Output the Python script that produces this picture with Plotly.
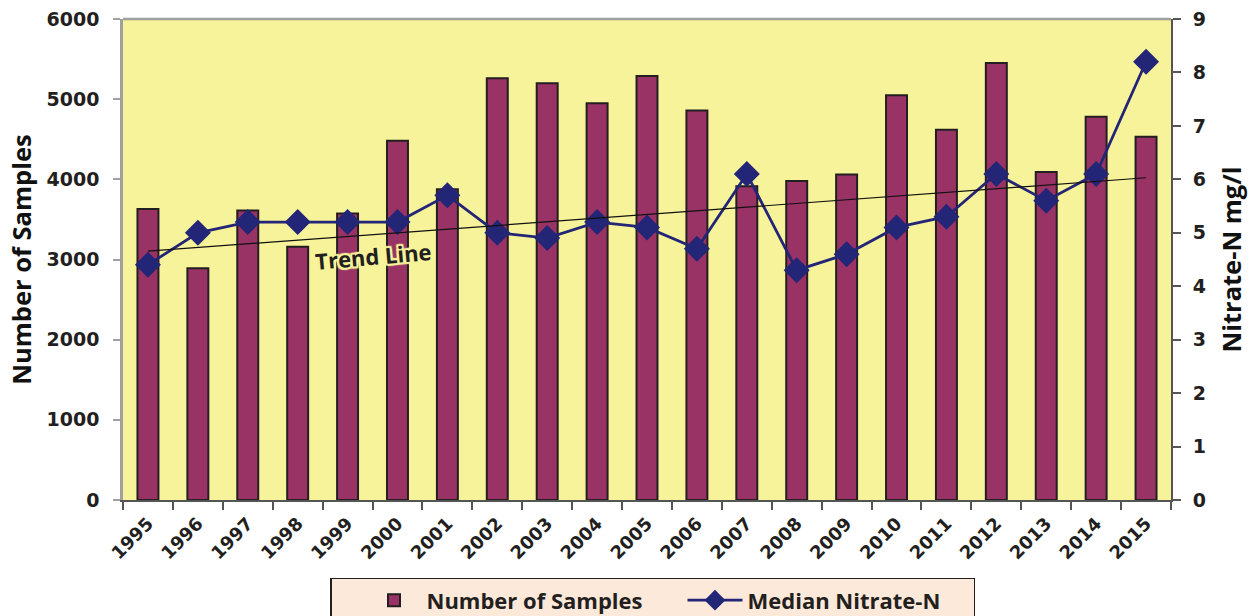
import numpy as np
import plotly.graph_objects as go

years = [str(y) for y in range(1995, 2016)]
samples = [3630, 2890, 3610, 3160, 3575, 4480, 3875, 5260, 5200, 4950, 5290,
           4860, 3915, 3980, 4060, 5050, 4620, 5450, 4090, 4780, 4530]
nitrate = [4.4, 5.0, 5.2, 5.2, 5.2, 5.2, 5.7, 5.0, 4.9, 5.2, 5.1,
           4.7, 6.1, 4.3, 4.6, 5.1, 5.3, 6.1, 5.6, 6.1, 8.2]
left_ticks = [0, 1000, 2000, 3000, 4000, 5000, 6000]
right_ticks = list(range(0, 10))

idx = np.arange(len(years))
slope, intercept = np.polyfit(idx, nitrate, 1)
trend = [intercept + slope * idx[0], intercept + slope * idx[-1]]

FONT = "Open Sans"
TICKFONT = "DejaVu Sans"
DARK = "#231F20"
YELLOW = "#F7F39A"

fig = go.Figure()
fig.add_trace(go.Bar(
    x=years, y=samples, name="Number of Samples",
    marker=dict(color="#993366", line=dict(color="#231F20", width=2)),
    yaxis="y",
))
fig.add_trace(go.Scatter(
    x=years, y=nitrate, name="Median Nitrate-N", mode="lines+markers",
    line=dict(color="#232576", width=2.8),
    marker=dict(symbol="diamond", size=20, color="#232576"),
    yaxis="y2",
))
fig.add_trace(go.Scatter(
    x=[years[0], years[-1]], y=trend, mode="lines", showlegend=False,
    line=dict(color="#111111", width=1.2), yaxis="y2",
))

halo = ", ".join(f"{dx}px {dy}px 1px {YELLOW}" for dx, dy in
                 [(2, 0), (-2, 0), (0, 2), (0, -2), (2, 2), (-2, -2), (2, -2), (-2, 2)])

fig.update_layout(
    width=1256, height=616,
    margin=dict(l=123, r=85, t=19, b=116, autoexpand=False),
    paper_bgcolor="white",
    plot_bgcolor=YELLOW,
    bargap=0.58,
    font=dict(family=FONT, color=DARK, size=18),
    showlegend=True,
    legend=dict(
        orientation="h", x=(330 - 123) / 1048, xanchor="left", y=-0.162, yanchor="top",
        bgcolor="#FDE9DA", bordercolor="#231F20", borderwidth=1.5,
        font=dict(family=FONT, size=22, color=DARK, weight="bold"),
        entrywidth=221, itemwidth=55, indentation=30,
    ),
    xaxis=dict(
        type="category", range=[-0.5, len(years) - 0.5],
        tickangle=-45, tickson="boundaries",
        ticks="outside", ticklen=8, tickcolor="#555555", tickwidth=1.5,
        showline=True, linecolor="#555555", linewidth=2,
        showgrid=False, zeroline=False, ticklabelstandoff=4,
        tickfont=dict(family=TICKFONT, size=18, color=DARK, weight="bold"),
    ),
    yaxis=dict(
        range=[0, 6000], tickvals=left_ticks, ticks="outside", ticklen=7,
        tickcolor="#A0A0A0", tickwidth=1.5,
        showline=True, linecolor="#A0A0A0", linewidth=2.5,
        showgrid=False, zeroline=False, ticklabelstandoff=10,
        ticklabeloverflow="allow",
        tickfont=dict(family=TICKFONT, size=19, color=DARK, weight="bold"),
        title=dict(text="Number of Samples", standoff=8,
                   font=dict(family=FONT, size=25.5, color="#111111", weight="bold")),
    ),
    yaxis2=dict(
        range=[0, 9], tickvals=right_ticks, overlaying="y", side="right",
        ticks="outside", ticklen=8, tickcolor="#555555", tickwidth=1.5,
        showline=True, linecolor="#555555", linewidth=2,
        showgrid=False, zeroline=False, ticklabelstandoff=8,
        ticklabeloverflow="allow",
        tickfont=dict(family=TICKFONT, size=19, color=DARK, weight="bold"),
        title=dict(text="Nitrate-N mg/l", standoff=18,
                   font=dict(family=FONT, size=25.5, color="#111111", weight="bold")),
    ),
    shapes=[dict(type="line", xref="paper", yref="paper", x0=0, x1=1, y0=1, y1=1,
                 line=dict(color="#A0A0A0", width=2.5))],
    annotations=[dict(
        x=4.5, y=3045, xref="x", yref="y", text="Trend Line", showarrow=False,
        textangle=-5,
        font=dict(family=FONT, size=22, color=DARK, weight="bold", shadow=halo),
    )],
)

fig.write_html("out.html", config={"displayModeBar": False},
               post_script="document.body.style.margin='0px';")
